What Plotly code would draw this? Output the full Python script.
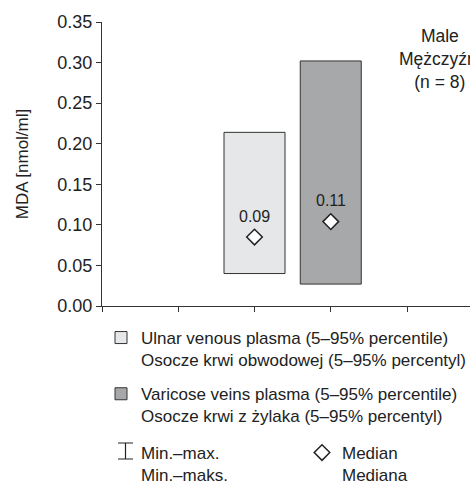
import plotly.graph_objects as go

# ---- data ----
groups = ["Ulnar venous plasma", "Varicose veins plasma"]
x_pos = [2, 3]
p5 = [0.040, 0.027]
p95 = [0.214, 0.302]
medians = [0.085, 0.104]
median_labels = ["0.09", "0.11"]
y_ticks = [0.00, 0.05, 0.10, 0.15, 0.20, 0.25, 0.30, 0.35]
x_ticks = [0, 1, 2, 3, 4]
legend_names = [
    "Ulnar venous plasma (5–95% percentile)<br>Osocze krwi obwodowej (5–95% percentyl)",
    "Varicose veins plasma (5–95% percentile)<br>Osocze krwi z żylaka (5–95% percentyl)",
]
minmax_name = "Min.–max.<br>Min.–maks."
median_name = "Median<br>Mediana"
panel_text = "Male<br>Mężczyźni<br>(n = 8)"
bar_colors = ["#e6e7e9", "#a7a8aa"]

# ---- layout geometry ----
W, H = 470, 481
ML, MR, MT, MB = 102, 0, 22, 175
PW, PH = W - ML - MR, H - MT - MB
X_UNIT = 76.25
FONT = "Liberation Sans, Arial, sans-serif"
INK = "#222222"
LEG_FS = 17


def px_x(p):
    return (p - ML) / PW


def px_y(p):
    return (H - MB - p) / PH


fig = go.Figure()
for i in range(len(groups)):
    fig.add_trace(go.Bar(
        x=[x_pos[i]], y=[p95[i] - p5[i]], base=[p5[i]], width=0.8,
        marker=dict(color=bar_colors[i], line=dict(color="#333333", width=1)),
        name=legend_names[i], legend="legend", legendgroup=f"g{i}",
        hoverinfo="skip",
    ))

fig.add_trace(go.Scatter(
    x=[None], y=[None], mode="markers",
    marker=dict(size=16, color="rgba(0,0,0,0)", line=dict(width=0, color="rgba(0,0,0,0)")),
    name=minmax_name, legend="legend2", hoverinfo="skip",
))
fig.add_trace(go.Scatter(
    x=x_pos, y=medians, mode="markers",
    marker=dict(symbol="diamond", size=12, color="white",
                line=dict(color=INK, width=1.5)),
    name=median_name, legend="legend3", hoverinfo="skip",
))

annotations = []
for i in range(len(groups)):
    annotations.append(dict(
        x=x_pos[i], y=medians[i], xref="x", yref="y", text=median_labels[i],
        showarrow=False, yshift=21, font=dict(size=16, color=INK, family=FONT),
    ))
annotations.append(dict(
    x=px_x(439.5), y=px_y(59), xref="paper", yref="paper", text=panel_text,
    showarrow=False, align="center", xanchor="center", yanchor="middle",
    font=dict(size=17.5, color=INK, family=FONT),
))

# I-beam glyph for the min–max legend entry
x1, x2, xc = px_x(118), px_x(133), px_x(125.5)
y1, y2 = px_y(443), px_y(459)
shapes = [dict(
    type="path", xref="paper", yref="paper",
    path=f"M{x1},{y1} L{x2},{y1} M{xc},{y1} L{xc},{y2} M{x1},{y2} L{x2},{y2}",
    line=dict(color=INK, width=1.2),
)]

legend_common = dict(
    xanchor="left", yanchor="top", orientation="v", valign="top",
    font=dict(size=LEG_FS, color=INK, family=FONT), bgcolor="rgba(0,0,0,0)",
)

fig.update_layout(
    width=W, height=H,
    margin=dict(l=ML, r=MR, t=MT, b=MB, pad=0, autoexpand=False),
    paper_bgcolor="white", plot_bgcolor="white",
    barmode="overlay",
    font=dict(family=FONT, size=17, color=INK),
    annotations=annotations, shapes=shapes,
    legend=dict(x=px_x(101), y=px_y(320), tracegroupgap=9, traceorder="grouped", **legend_common),
    legend2=dict(x=px_x(101), y=px_y(435), **legend_common),
    legend3=dict(x=px_x(302), y=px_y(435), **legend_common),
    xaxis=dict(
        range=[0, PW / X_UNIT], tickvals=x_ticks, ticktext=[""] * len(x_ticks),
        ticks="outside", ticklen=5, tickcolor="#333333",
        showline=True, linecolor="#333333", linewidth=1,
        showgrid=False, zeroline=False, fixedrange=True,
    ),
    yaxis=dict(
        range=[0, 0.35], tickvals=y_ticks, tickformat=".2f",
        ticks="outside", ticklen=5, tickcolor="#333333",
        showline=True, linecolor="#333333", linewidth=1,
        showgrid=False, zeroline=False, fixedrange=True,
        tickfont=dict(size=18, color=INK, family=FONT),
        title=dict(text="MDA [nmol/ml]", font=dict(size=17, color=INK, family=FONT), standoff=24),
    ),
)

fig.write_html("out.html")
